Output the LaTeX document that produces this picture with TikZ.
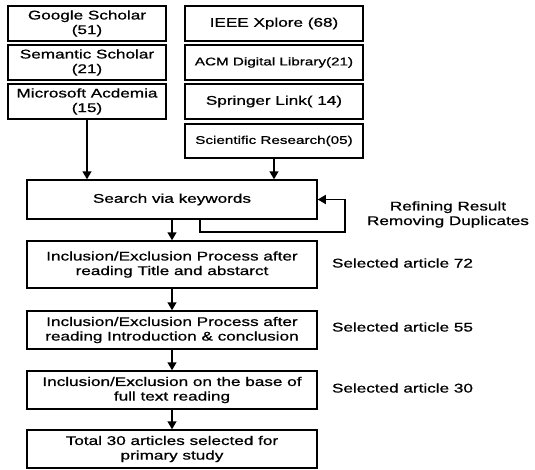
\documentclass[tikz,border=0pt]{standalone}
\usepackage{fontspec}
\setmainfont{Liberation Sans}[FakeStretch=1.36,FakeBold=0.8]
\usepackage{tikz}
\usetikzlibrary{arrows.meta}

\begin{document}
\begin{tikzpicture}[x=1pt,y=-1pt]
\tikzstyle{every node}+=[inner sep=0pt]
\tikzstyle{box}=[draw=black,line width=1.5pt,align=center,font=\fontsize{12.6}{14.6}\selectfont]
\tikzstyle{srcbox}=[box,minimum width=158pt,minimum height=35pt]
\tikzstyle{dbbox}=[box,minimum width=178pt,minimum height=35pt]
\tikzstyle{stepbox}=[box,minimum width=290pt,minimum height=38pt]
\tikzstyle{note}=[align=center,font=\fontsize{12.6}{14.6}\selectfont]
\tikzstyle{arr}=[black,line width=1.5pt,-{Triangle[length=8pt,width=9pt]}]
\useasboundingbox (0,0) rectangle (535,469);
% sources
\node [srcbox] (gs) at (87,23.5) {Google Scholar\\(51)};
\node [srcbox] (ss) at (87,62.5) {Semantic Scholar\\(21)};
\node [srcbox] (ma) at (87,101.5) {Microsoft Acdemia\\(15)};
\node [dbbox] (ieee) at (274,23.5) {IEEE Xplore (68)};
\node [dbbox,font=\fontsize{11.2}{13}\selectfont] (acm) at (274,62.5) {ACM Digital Library(21)};
\node [dbbox] (spr) at (274,101.5) {Springer Link( 14)};
\node [dbbox,minimum height=34pt,font=\fontsize{11.2}{13}\selectfont] (sci) at (274,141) {Scientific Research(05)};
% steps
\node [stepbox,minimum height=39pt] (search) at (172,199.5) {Search via keywords};
\node [stepbox,minimum height=47pt] (title) at (172,264.5) {Inclusion/Exclusion Process after\\reading Title and abstarct};
\node [stepbox] (intro) at (172,330) {Inclusion/Exclusion Process after\\reading Introduction \& conclusion};
\node [stepbox] (full) at (172,390) {Inclusion/Exclusion on the base of\\full text reading};
\node [stepbox] (total) at (172,449) {Total 30 articles selected for\\primary study};
% notes
\node [note] (refine) at (448,214.5) {Refining Result\\Removing Duplicates};
\node [note] (sel72) at (402.5,263) {Selected article 72};
\node [note] (sel55) at (402.5,327) {Selected article 55};
\node [note] (sel30) at (402.5,388) {Selected article 30};
% arrows
\draw [arr] (ma.south) -- (ma.south |- search.north);
\draw [arr] (sci.south) -- (sci.south |- search.north);
\draw [arr] ([xshift=28pt]search.south) |- (345,232) |- (search.east);
\draw [arr] (search.south -| title.north) -- (title.north);
\draw [arr] (title.south) -- (intro.north);
\draw [arr] (intro.south) -- (full.north);
\draw [arr] (full.south) -- (total.north);
\end{tikzpicture}
\end{document}
